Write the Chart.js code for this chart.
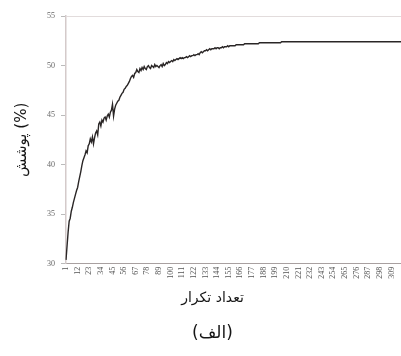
<!DOCTYPE html>
<html>
<head>
<meta charset="utf-8">
<script src="https://cdn.jsdelivr.net/npm/chart.js@4/dist/chart.umd.min.js"></script>
<style>
  html, body { margin: 0; padding: 0; background: #fff; }
  #wrap { width: 401px; height: 356px; position: relative; }
</style>
</head>
<body>
<div id="wrap"><canvas id="c" width="401" height="356"></canvas></div>
<script>
// Coverage (%) per iteration, iterations 1..318
const coverage = [
  30.4, 31.8, 33.2, 34.3, 34.6, 35.3, 35.7, 36.2, 36.6, 37.0,
  37.4, 37.7, 38.3, 38.8, 39.3, 39.9, 40.4, 40.7, 41.0, 41.4,
  41.2, 41.9, 42.1, 42.6, 42.3, 42.8, 42.1, 42.7, 43.2, 43.4,
  43.0, 44.1, 44.3, 43.9, 44.5, 44.3, 44.7, 44.8, 44.5, 44.9,
  45.1, 44.8, 45.3, 45.5, 46.1, 44.9, 45.6, 46.0, 46.2, 46.4,
  46.5, 46.8, 47.0, 47.2, 47.3, 47.6, 47.7, 47.9, 48.0, 48.2,
  48.4, 48.7, 48.9, 49.0, 48.8, 49.2, 49.3, 49.6, 49.4, 49.3,
  49.7, 49.5, 49.8, 49.6, 49.9, 49.7, 49.6, 49.9, 50.0, 49.8,
  49.7, 50.0, 49.9, 49.8, 50.1, 49.9, 50.0, 49.9, 49.8, 50.0,
  50.1, 49.9, 50.2, 50.0, 50.1, 50.3, 50.2, 50.4, 50.3, 50.4,
  50.5, 50.4, 50.6, 50.5, 50.6, 50.7, 50.6, 50.7, 50.8, 50.7,
  50.8, 50.7, 50.8, 50.8, 50.9, 50.8, 50.9, 51.0, 50.9, 51.0,
  51.0, 51.1, 51.0, 51.1, 51.1, 51.2, 51.1, 51.3, 51.4, 51.3,
  51.4, 51.5, 51.5, 51.6, 51.5, 51.6, 51.7, 51.6, 51.7, 51.7,
  51.7, 51.8, 51.7, 51.8, 51.8, 51.7, 51.8, 51.8, 51.9, 51.8,
  51.9, 51.9, 51.9, 52.0, 51.9, 52.0, 52.0, 52.0, 52.0, 52.0,
  52.0, 52.1, 52.1, 52.1, 52.1, 52.1, 52.1, 52.1, 52.1, 52.2,
  52.2, 52.2, 52.2, 52.2, 52.2, 52.2, 52.2, 52.2, 52.2, 52.2,
  52.2, 52.2, 52.2, 52.3, 52.3, 52.3, 52.3, 52.3, 52.3, 52.3,
  52.3, 52.3, 52.3, 52.3, 52.3, 52.3, 52.3, 52.3, 52.3, 52.3,
  52.3, 52.3, 52.3, 52.3, 52.4, 52.4, 52.4, 52.4, 52.4, 52.4,
  52.4, 52.4, 52.4, 52.4, 52.4, 52.4, 52.4, 52.4, 52.4, 52.4,
  52.4, 52.4, 52.4, 52.4, 52.4, 52.4, 52.4, 52.4, 52.4, 52.4,
  52.4, 52.4, 52.4, 52.4, 52.4, 52.4, 52.4, 52.4, 52.4, 52.4,
  52.4, 52.4, 52.4, 52.4, 52.4, 52.4, 52.4, 52.4, 52.4, 52.4,
  52.4, 52.4, 52.4, 52.4, 52.4, 52.4, 52.4, 52.4, 52.4, 52.4,
  52.4, 52.4, 52.4, 52.4, 52.4, 52.4, 52.4, 52.4, 52.4, 52.4,
  52.4, 52.4, 52.4, 52.4, 52.4, 52.4, 52.4, 52.4, 52.4, 52.4,
  52.4, 52.4, 52.4, 52.4, 52.4, 52.4, 52.4, 52.4, 52.4, 52.4,
  52.4, 52.4, 52.4, 52.4, 52.4, 52.4, 52.4, 52.4, 52.4, 52.4,
  52.4, 52.4, 52.4, 52.4, 52.4, 52.4, 52.4, 52.4, 52.4, 52.4,
  52.4, 52.4, 52.4, 52.4, 52.4, 52.4, 52.4, 52.4
];

// Iteration numbers (category labels)
const iterations = coverage.map((_, i) => i + 1);

// Iterations that carry a visible tick label
const labeledIterations = [1, 12, 23, 34, 45, 56, 67, 78, 89, 100, 111, 122, 133, 144, 155,
  166, 177, 188, 199, 210, 221, 232, 243, 254, 265, 276, 287, 298, 309];

// Y axis ticks
const yTicks = [30, 35, 40, 45, 50, 55];

const xTitle = 'تعداد تکرار';
const yTitle = 'پوشش (%)';
const caption = '(الف)';

new Chart(document.getElementById('c'), {
  type: 'line',
  data: {
    labels: iterations,
    datasets: [{
      data: coverage,
      borderColor: '#2a2626',
      borderWidth: 1.4,
      pointRadius: 0,
      tension: 0,
      fill: false
    }]
  },
  options: {
    responsive: false,
    animation: false,
    events: [],
    layout: { padding: { left: 24, right: 0, top: 16, bottom: 0 } },
    plugins: {
      legend: { display: false },
      tooltip: { enabled: false },
      subtitle: {
        display: true,
        position: 'bottom',
        text: xTitle,
        color: '#161616',
        font: { family: 'DejaVu Sans', size: 14, weight: 'normal', lineHeight: 1.2 },
        padding: { top: 2, bottom: 10 }
      },
      title: {
        display: true,
        position: 'bottom',
        text: caption,
        color: '#161616',
        font: { family: 'DejaVu Sans', size: 17, weight: 'normal', lineHeight: 1.2 },
        padding: { top: 7, bottom: 12 }
      }
    },
    scales: {
      x: {
        type: 'category',
        offset: false,
        grid: { display: false, drawTicks: false },
        border: { display: true, color: '#a8a0a0', width: 1 },
        ticks: {
          autoSkip: false,
          maxRotation: 90,
          minRotation: 90,
          padding: 3,
          color: '#555',
          font: { family: 'Liberation Serif', size: 8 },
          callback: function (value) {
            const it = iterations[value];
            return labeledIterations.includes(it) ? String(it) : '';
          }
        },
        afterFit: function (scale) {
          scale.height = 24;
          scale.paddingLeft = 0;
          scale.paddingRight = 0;
        }
      },
      y: {
        min: 30,
        max: 55,
        afterBuildTicks: function (scale) {
          scale.ticks = yTicks.map(v => ({ value: v }));
        },
        grid: {
          drawOnChartArea: true,
          color: ctx => (ctx.tick && ctx.tick.value === 55) ? '#e2dcdc' : 'rgba(0,0,0,0)',
          tickColor: '#bbb',
          tickLength: 5
        },
        border: { display: true, color: '#d4caca', width: 1.5 },
        ticks: {
          padding: 6,
          color: '#666',
          font: { family: 'Liberation Serif', size: 8 }
        },
        title: {
          display: true,
          text: yTitle,
          color: '#161616',
          font: { family: 'DejaVu Sans', size: 15, weight: 'normal', lineHeight: 1.2 },
          padding: { top: -11, bottom: 0 }
        },
        afterFit: function (scale) { scale.width = 42; }
      }
    }
  }
});
</script>
</body>
</html>
